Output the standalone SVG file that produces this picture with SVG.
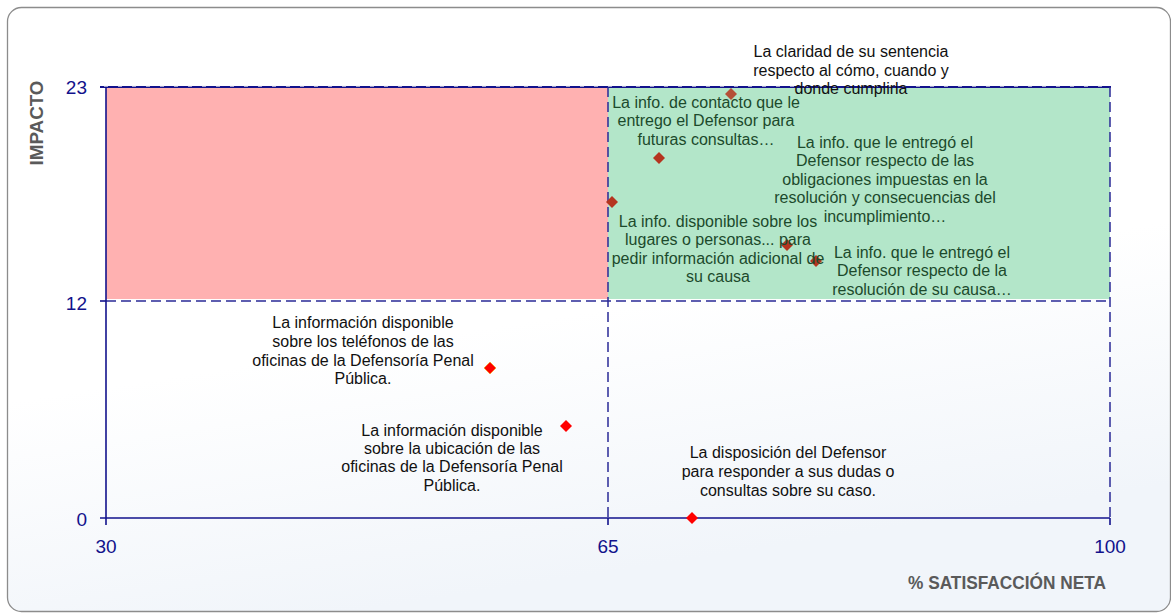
<svg xmlns="http://www.w3.org/2000/svg" width="1171" height="613" viewBox="0 0 1171 613">
  <defs>
    <linearGradient id="bg" x1="0" y1="0" x2="0.3" y2="1">
      <stop offset="0" stop-color="#ffffff"/>
      <stop offset="0.6" stop-color="#ffffff"/>
      <stop offset="1" stop-color="#f1f5fa"/>
    </linearGradient>
    <style>
      .lbl { font-family: "Liberation Sans", Arial, sans-serif; font-size: 16px; fill: #111111; text-anchor: middle; }
      .lblg { font-family: "Liberation Sans", Arial, sans-serif; font-size: 16px; fill: #1c4a2c; text-anchor: middle; }
      .tick { font-family: "Liberation Sans", Arial, sans-serif; font-size: 19px; fill: #12128c; }
      .title { font-family: "Liberation Sans", Arial, sans-serif; font-size: 18px; font-weight: bold; fill: #5a5a5a; }
      .axis { stroke: #12128c; stroke-width: 1.6; fill: none; }
      .dash { stroke: #2a2a96; stroke-width: 1.5; stroke-dasharray: 10 5; fill: none; }
      .dk { fill: #b5341f; }
      .rd { fill: #ff0000; }
    </style>
  </defs>

  <rect x="0" y="0" width="1171" height="613" fill="#ffffff"/>
  <rect id="frame" x="7.5" y="7.5" width="1163" height="604" rx="14" fill="url(#bg)" stroke="#8c8c8c" stroke-width="1.3"/>

  <g id="quadrants">
    <rect x="106" y="87" width="502" height="212" fill="#ffb1b1"/>
    <rect x="608" y="87" width="502" height="212" fill="#b3e6c9"/>
  </g>

  <g id="connectors">
    <line x1="100" y1="87" x2="1111" y2="87" stroke="#12128c" stroke-width="2"/>
    <line x1="104" y1="86.3" x2="1110" y2="86.3" stroke="#d8d8e8" stroke-width="0.9" stroke-dasharray="4 10"/>
    <line class="dash" x1="106" y1="301" x2="1110" y2="301"/>
    <line class="dash" x1="608" y1="87" x2="608" y2="518"/>
    <line class="dash" x1="1110" y1="87" x2="1110" y2="518"/>
    <line class="axis" x1="106" y1="87" x2="106" y2="525"/>
    <line class="axis" x1="100" y1="518" x2="1110" y2="518"/>
    <line class="axis" x1="100" y1="301" x2="106" y2="301"/>
    <line class="axis" x1="608" y1="518" x2="608" y2="525"/>
    <line class="axis" x1="1110" y1="518" x2="1110" y2="525"/>
  </g>

  <g id="axis-labels">
    <text class="tick" x="87" y="94" text-anchor="end">23</text>
    <text class="tick" x="87" y="310" text-anchor="end">12</text>
    <text class="tick" x="87" y="526" text-anchor="end">0</text>
    <text class="tick" x="106" y="553" text-anchor="middle">30</text>
    <text class="tick" x="608" y="553" text-anchor="middle">65</text>
    <text class="tick" x="1110" y="553" text-anchor="middle">100</text>
    <text class="title" x="0" y="0" transform="translate(43,123) rotate(-90)" text-anchor="middle" textLength="85" lengthAdjust="spacingAndGlyphs">IMPACTO</text>
    <text class="title" x="1007" y="589" text-anchor="middle" textLength="198" lengthAdjust="spacingAndGlyphs">% SATISFACCIÓN NETA</text>
  </g>

  <g id="points">
    <path class="dk" d="M731 88 L737 94 L731 100 L725 94 Z" opacity="0.85"/>
    <path class="dk" d="M659 152 L665 158 L659 164 L653 158 Z"/>
    <path class="dk" d="M612 196 L618 202 L612 208 L606 202 Z"/>
    <path class="dk" d="M787 239 L793 245 L787 251 L781 245 Z"/>
    <path class="dk" d="M816 255 L822 261 L816 267 L810 261 Z"/>
    <path class="rd" d="M490 362 L496 368 L490 374 L484 368 Z" stroke="#f39a3a" stroke-width="1"/>
    <path class="rd" d="M566 420 L572 426 L566 432 L560 426 Z"/>
    <path class="rd" d="M692 512 L698 518 L692 524 L686 518 Z"/>
  </g>

  <g id="label-claridad">
    <text class="lbl"><tspan x="851" y="57">La claridad de su sentencia</tspan><tspan x="851" y="75.5">respecto al cómo, cuando y</tspan><tspan x="851" y="94">donde cumplirla</tspan></text>
  </g>
  <g id="label-contacto">
    <text class="lblg"><tspan x="706" y="107.5">La info. de contacto que le</tspan><tspan x="706" y="126">entrego el Defensor para</tspan><tspan x="706" y="144.5">futuras consultas…</tspan></text>
  </g>
  <g id="label-obligaciones">
    <text class="lblg"><tspan x="885" y="147.5">La info. que le entregó el</tspan><tspan x="885" y="166">Defensor respecto de las</tspan><tspan x="885" y="184.5">obligaciones impuestas en la</tspan><tspan x="885" y="203">resolución y consecuencias del</tspan><tspan x="885" y="221.5">incumplimiento…</tspan></text>
  </g>
  <g id="label-lugares">
    <text class="lblg"><tspan x="718" y="226.5">La info. disponible sobre los</tspan><tspan x="718" y="245">lugares o personas... para</tspan><tspan x="718" y="263.5">pedir información adicional de</tspan><tspan x="718" y="282">su causa</tspan></text>
  </g>
  <g id="label-resolucion">
    <text class="lblg"><tspan x="922" y="257.5">La info. que le entregó el</tspan><tspan x="922" y="276">Defensor respecto de la</tspan><tspan x="922" y="294.5">resolución de su causa…</tspan></text>
  </g>
  <g id="label-telefonos">
    <text class="lbl"><tspan x="363" y="328">La información disponible</tspan><tspan x="363" y="347">sobre los teléfonos de las</tspan><tspan x="363" y="365.5">oficinas de la Defensoría Penal</tspan><tspan x="363" y="384">Pública.</tspan></text>
  </g>
  <g id="label-ubicacion">
    <text class="lbl"><tspan x="452" y="435.5">La información disponible</tspan><tspan x="452" y="454">sobre la ubicación de las</tspan><tspan x="452" y="472">oficinas de la Defensoría Penal</tspan><tspan x="452" y="490.5">Pública.</tspan></text>
  </g>
  <g id="label-disposicion">
    <text class="lbl"><tspan x="788" y="458">La disposición del Defensor</tspan><tspan x="788" y="477">para responder a sus dudas o</tspan><tspan x="788" y="495.5">consultas sobre su caso.</tspan></text>
  </g>
</svg>
